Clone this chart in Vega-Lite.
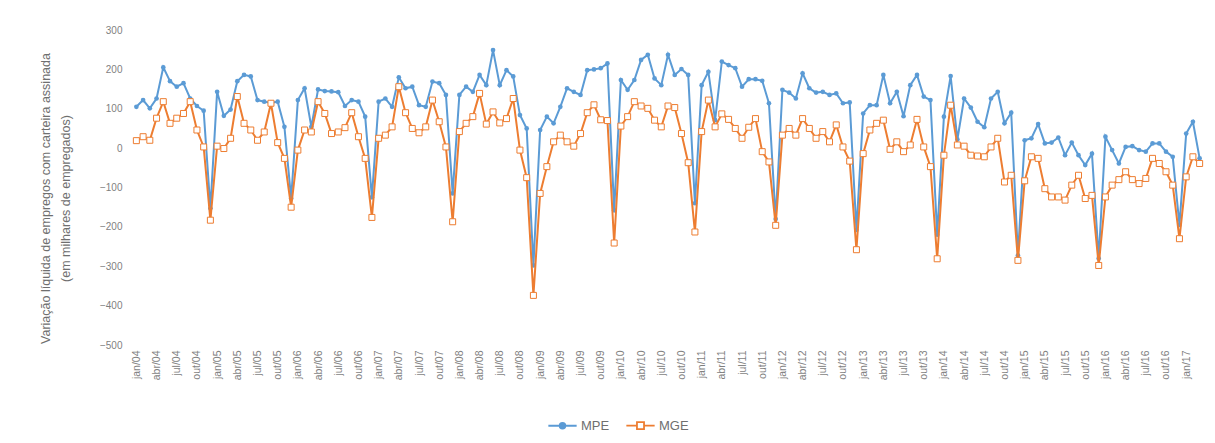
{
  "$schema": "https://vega.github.io/schema/vega-lite/v6.json",
  "width": 1070,
  "height": 315,
  "autosize": {"type": "none"},
  "padding": {"left": 133, "top": 30, "right": 12, "bottom": 98},
  "background": "#ffffff",
  "config": {
    "font": "Liberation Sans",
    "view": {"stroke": null}
  },
  "data": {
    "values": [
      {"m": "jan/04", "MPE": 105, "MGE": 19},
      {"m": "fev/04", "MPE": 122, "MGE": 29},
      {"m": "mar/04", "MPE": 101, "MGE": 20},
      {"m": "abr/04", "MPE": 126, "MGE": 76},
      {"m": "mai/04", "MPE": 205, "MGE": 118},
      {"m": "jun/04", "MPE": 170, "MGE": 63},
      {"m": "jul/04", "MPE": 156, "MGE": 76},
      {"m": "ago/04", "MPE": 165, "MGE": 88},
      {"m": "set/04", "MPE": 126, "MGE": 118},
      {"m": "out/04", "MPE": 107, "MGE": 46},
      {"m": "nov/04", "MPE": 95, "MGE": 3},
      {"m": "dez/04", "MPE": -153, "MGE": -183},
      {"m": "jan/05", "MPE": 143, "MGE": 5},
      {"m": "fev/05", "MPE": 82, "MGE": -1},
      {"m": "mar/05", "MPE": 98, "MGE": 25},
      {"m": "abr/05", "MPE": 170, "MGE": 131},
      {"m": "mai/05", "MPE": 186, "MGE": 63},
      {"m": "jun/05", "MPE": 182, "MGE": 46},
      {"m": "jul/05", "MPE": 122, "MGE": 20},
      {"m": "ago/05", "MPE": 118, "MGE": 41},
      {"m": "set/05", "MPE": 115, "MGE": 114},
      {"m": "out/05", "MPE": 118, "MGE": 14},
      {"m": "nov/05", "MPE": 54, "MGE": -26},
      {"m": "dez/05", "MPE": -128, "MGE": -150},
      {"m": "jan/06", "MPE": 122, "MGE": -5},
      {"m": "fev/06", "MPE": 152, "MGE": 46},
      {"m": "mar/06", "MPE": 54, "MGE": 41},
      {"m": "abr/06", "MPE": 149, "MGE": 118},
      {"m": "mai/06", "MPE": 145, "MGE": 88},
      {"m": "jun/06", "MPE": 144, "MGE": 37},
      {"m": "jul/06", "MPE": 142, "MGE": 41},
      {"m": "ago/06", "MPE": 107, "MGE": 52},
      {"m": "set/06", "MPE": 122, "MGE": 90},
      {"m": "out/06", "MPE": 118, "MGE": 29},
      {"m": "nov/06", "MPE": 80, "MGE": -26},
      {"m": "dez/06", "MPE": -125, "MGE": -176},
      {"m": "jan/07", "MPE": 118, "MGE": 25},
      {"m": "fev/07", "MPE": 126, "MGE": 33},
      {"m": "mar/07", "MPE": 105, "MGE": 54},
      {"m": "abr/07", "MPE": 180, "MGE": 156},
      {"m": "mai/07", "MPE": 152, "MGE": 90},
      {"m": "jun/07", "MPE": 156, "MGE": 50},
      {"m": "jul/07", "MPE": 109, "MGE": 39},
      {"m": "ago/07", "MPE": 105, "MGE": 54},
      {"m": "set/07", "MPE": 169, "MGE": 122},
      {"m": "out/07", "MPE": 165, "MGE": 67},
      {"m": "nov/07", "MPE": 135, "MGE": 3},
      {"m": "dez/07", "MPE": -115, "MGE": -187},
      {"m": "jan/08", "MPE": 135, "MGE": 42},
      {"m": "fev/08", "MPE": 156, "MGE": 63},
      {"m": "mar/08", "MPE": 143, "MGE": 80},
      {"m": "abr/08", "MPE": 186, "MGE": 139},
      {"m": "mai/08", "MPE": 160, "MGE": 61},
      {"m": "jun/08", "MPE": 249, "MGE": 92},
      {"m": "jul/08", "MPE": 160, "MGE": 64},
      {"m": "ago/08", "MPE": 198, "MGE": 75},
      {"m": "set/08", "MPE": 182, "MGE": 126},
      {"m": "out/08", "MPE": 84, "MGE": -5},
      {"m": "nov/08", "MPE": 50, "MGE": -75},
      {"m": "dez/08", "MPE": -298, "MGE": -374},
      {"m": "jan/09", "MPE": 46, "MGE": -115},
      {"m": "fev/09", "MPE": 80, "MGE": -47},
      {"m": "mar/09", "MPE": 63, "MGE": 16},
      {"m": "abr/09", "MPE": 105, "MGE": 33},
      {"m": "mai/09", "MPE": 152, "MGE": 16},
      {"m": "jun/09", "MPE": 143, "MGE": 5},
      {"m": "jul/09", "MPE": 135, "MGE": 37},
      {"m": "ago/09", "MPE": 198, "MGE": 90},
      {"m": "set/09", "MPE": 200, "MGE": 110},
      {"m": "out/09", "MPE": 203, "MGE": 72},
      {"m": "nov/09", "MPE": 215, "MGE": 70},
      {"m": "dez/09", "MPE": -158, "MGE": -241},
      {"m": "jan/10", "MPE": 173, "MGE": 56},
      {"m": "fev/10", "MPE": 148, "MGE": 80},
      {"m": "mar/10", "MPE": 173, "MGE": 118},
      {"m": "abr/10", "MPE": 224, "MGE": 107},
      {"m": "mai/10", "MPE": 237, "MGE": 101},
      {"m": "jun/10", "MPE": 177, "MGE": 71},
      {"m": "jul/10", "MPE": 160, "MGE": 54},
      {"m": "ago/10", "MPE": 237, "MGE": 107},
      {"m": "set/10", "MPE": 186, "MGE": 103},
      {"m": "out/10", "MPE": 201, "MGE": 37},
      {"m": "nov/10", "MPE": 186, "MGE": -37},
      {"m": "dez/10", "MPE": -140, "MGE": -213},
      {"m": "jan/11", "MPE": 160, "MGE": 42},
      {"m": "fev/11", "MPE": 194, "MGE": 122},
      {"m": "mar/11", "MPE": 71, "MGE": 54},
      {"m": "abr/11", "MPE": 220, "MGE": 87},
      {"m": "mai/11", "MPE": 211, "MGE": 73},
      {"m": "jun/11", "MPE": 203, "MGE": 50},
      {"m": "jul/11", "MPE": 156, "MGE": 25},
      {"m": "ago/11", "MPE": 175, "MGE": 53},
      {"m": "set/11", "MPE": 175, "MGE": 75},
      {"m": "out/11", "MPE": 171, "MGE": -9},
      {"m": "nov/11", "MPE": 114, "MGE": -35},
      {"m": "dez/11", "MPE": -180, "MGE": -196},
      {"m": "jan/12", "MPE": 148, "MGE": 33},
      {"m": "fev/12", "MPE": 141, "MGE": 50},
      {"m": "mar/12", "MPE": 126, "MGE": 33},
      {"m": "abr/12", "MPE": 190, "MGE": 75},
      {"m": "mai/12", "MPE": 152, "MGE": 50},
      {"m": "jun/12", "MPE": 141, "MGE": 25},
      {"m": "jul/12", "MPE": 143, "MGE": 42},
      {"m": "ago/12", "MPE": 135, "MGE": 16},
      {"m": "set/12", "MPE": 139, "MGE": 59},
      {"m": "out/12", "MPE": 114, "MGE": 3},
      {"m": "nov/12", "MPE": 116, "MGE": -33},
      {"m": "dez/12", "MPE": -208, "MGE": -258},
      {"m": "jan/13", "MPE": 88, "MGE": -14},
      {"m": "fev/13", "MPE": 109, "MGE": 46},
      {"m": "mar/13", "MPE": 109, "MGE": 63},
      {"m": "abr/13", "MPE": 186, "MGE": 71},
      {"m": "mai/13", "MPE": 114, "MGE": -3},
      {"m": "jun/13", "MPE": 143, "MGE": 16},
      {"m": "jul/13", "MPE": 81, "MGE": -9},
      {"m": "ago/13", "MPE": 160, "MGE": 8},
      {"m": "set/13", "MPE": 186, "MGE": 73},
      {"m": "out/13", "MPE": 131, "MGE": 3},
      {"m": "nov/13", "MPE": 122, "MGE": -47},
      {"m": "dez/13", "MPE": -220, "MGE": -281},
      {"m": "jan/14", "MPE": 80, "MGE": -18},
      {"m": "fev/14", "MPE": 183, "MGE": 109},
      {"m": "mar/14", "MPE": 22, "MGE": 8},
      {"m": "abr/14", "MPE": 126, "MGE": 5},
      {"m": "mai/14", "MPE": 103, "MGE": -18},
      {"m": "jun/14", "MPE": 67, "MGE": -20},
      {"m": "jul/14", "MPE": 53, "MGE": -22},
      {"m": "ago/14", "MPE": 126, "MGE": 3},
      {"m": "set/14", "MPE": 143, "MGE": 25},
      {"m": "out/14", "MPE": 63, "MGE": -86},
      {"m": "nov/14", "MPE": 90, "MGE": -69},
      {"m": "dez/14", "MPE": -272, "MGE": -285},
      {"m": "jan/15", "MPE": 20, "MGE": -83},
      {"m": "fev/15", "MPE": 25, "MGE": -22},
      {"m": "mar/15", "MPE": 61, "MGE": -26},
      {"m": "abr/15", "MPE": 12, "MGE": -103},
      {"m": "mai/15", "MPE": 14, "MGE": -124},
      {"m": "jun/15", "MPE": 27, "MGE": -124},
      {"m": "jul/15", "MPE": -18, "MGE": -132},
      {"m": "ago/15", "MPE": 14, "MGE": -94},
      {"m": "set/15", "MPE": -18, "MGE": -69},
      {"m": "out/15", "MPE": -43, "MGE": -128},
      {"m": "nov/15", "MPE": -14, "MGE": -120},
      {"m": "dez/15", "MPE": -280, "MGE": -298},
      {"m": "jan/16", "MPE": 29, "MGE": -124},
      {"m": "fev/16", "MPE": -5, "MGE": -94},
      {"m": "mar/16", "MPE": -39, "MGE": -80},
      {"m": "abr/16", "MPE": 3, "MGE": -60},
      {"m": "mai/16", "MPE": 5, "MGE": -80},
      {"m": "jun/16", "MPE": -5, "MGE": -90},
      {"m": "jul/16", "MPE": -9, "MGE": -77},
      {"m": "ago/16", "MPE": 12, "MGE": -26},
      {"m": "set/16", "MPE": 12, "MGE": -39},
      {"m": "out/16", "MPE": -9, "MGE": -60},
      {"m": "nov/16", "MPE": -22, "MGE": -94},
      {"m": "dez/16", "MPE": -195, "MGE": -230},
      {"m": "jan/17", "MPE": 37, "MGE": -73},
      {"m": "fev/17", "MPE": 67, "MGE": -22},
      {"m": "mar/17", "MPE": -26, "MGE": -39}
    ]
  },
  "layer": [
    {
      "mark": {"type": "rule", "color": "#d9d9d9", "strokeWidth": 1},
      "encoding": {"y": {"datum": 0, "type": "quantitative"}}
    },
    {
      "mark": {"type": "line", "strokeWidth": 2},
      "encoding": {
        "x": {"field": "m", "type": "nominal", "sort": null},
        "y": {"field": "MPE", "type": "quantitative"},
        "color": {"datum": "MPE"}
      }
    },
    {
      "mark": {"type": "point", "shape": "circle", "filled": true, "size": 22, "color": "#5B9BD5", "opacity": 1},
      "encoding": {
        "x": {"field": "m", "type": "nominal", "sort": null},
        "y": {"field": "MPE", "type": "quantitative"}
      }
    },
    {
      "mark": {"type": "line", "strokeWidth": 2},
      "encoding": {
        "x": {"field": "m", "type": "nominal", "sort": null},
        "y": {"field": "MGE", "type": "quantitative"},
        "color": {"datum": "MGE"}
      }
    },
    {
      "mark": {"type": "point", "shape": "square", "filled": true, "fill": "#ffffff", "stroke": "#ED7D31", "strokeWidth": 1, "size": 36, "opacity": 1},
      "encoding": {
        "x": {"field": "m", "type": "nominal", "sort": null},
        "y": {"field": "MGE", "type": "quantitative"}
      }
    }
  ],
  "resolve": {"scale": {"x": "shared", "y": "shared", "color": "shared"}},
  "encoding": {
    "x": {
      "field": "m",
      "type": "nominal",
      "sort": null,
      "scale": {"type": "point", "padding": 0.5},
      "axis": {
        "title": null,
        "values": ["jan/04","abr/04","jul/04","out/04","jan/05","abr/05","jul/05","out/05","jan/06","abr/06","jul/06","out/06","jan/07","abr/07","jul/07","out/07","jan/08","abr/08","jul/08","out/08","jan/09","abr/09","jul/09","out/09","jan/10","abr/10","jul/10","out/10","jan/11","abr/11","jul/11","out/11","jan/12","abr/12","jul/12","out/12","jan/13","abr/13","jul/13","out/13","jan/14","abr/14","jul/14","out/14","jan/15","abr/15","jul/15","out/15","jan/16","abr/16","jul/16","out/16","jan/17"],
        "labelAngle": -90,
        "labelAlign": "right",
        "labelBaseline": "middle",
        "labelFontSize": 10.5,
        "labelColor": "#7f7f7f",
        "labelPadding": 5,
        "ticks": false,
        "domain": false,
        "grid": false
      }
    },
    "y": {
      "type": "quantitative",
      "scale": {"domain": [-500, 300], "nice": false},
      "axis": {
        "values": [-500, -400, -300, -200, -100, 0, 100, 200, 300],
        "title": ["Variação líquida de empregos com carteira assinada", "(em milhares de empregados)"],
        "titleFontSize": 12.5,
        "titleFontWeight": "normal",
        "titleColor": "#6f6f6f",
        "titleX": -94,
        "titleY": 168,
        "titleAlign": "center",
        "titleBaseline": "top",
        "titleLineHeight": 20,
        "labelFontSize": 10,
        "labelColor": "#7f7f7f",
        "labelPadding": 11,
        "ticks": false,
        "domain": false,
        "grid": false
      }
    },
    "color": {
      "scale": {"domain": ["MPE", "MGE"], "range": ["#5B9BD5", "#ED7D31"]},
      "legend": {
        "orient": "none",
        "legendX": 414,
        "legendY": 380,
        "direction": "horizontal",
        "title": null,
        "labelFontSize": 13,
        "labelColor": "#6f6f6f",
        "labelOffset": 3,
        "columnPadding": 12,
        "symbolSize": 800,
        "symbolStrokeWidth": 2,
        "encode": {
          "symbols": {
            "update": {
              "shape": {"signal": "datum.value === 'MPE' ? 'M-1,0H-0.2M0.2,0H1M0.2,0A0.2,0.2,0,1,1,-0.2,0A0.2,0.2,0,1,1,0.2,0Z' : 'M-1,0H-0.25M0.25,0H1M-0.25,-0.25H0.25V0.25H-0.25Z'"},
              "fill": {"signal": "datum.value === 'MPE' ? '#5B9BD5' : '#ffffff'"},
              "fillOpacity": {"value": 1},
              "strokeWidth": {"value": 1.8}
            }
          }
        }
      }
    }
  }
}
